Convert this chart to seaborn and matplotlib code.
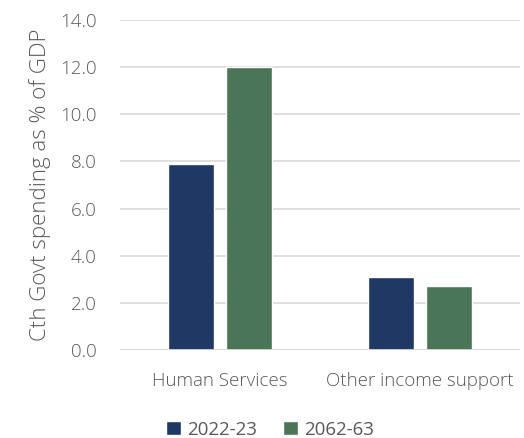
"""Cth Govt spending as % of GDP, two categories by year."""
import matplotlib
matplotlib.use("Agg")
import matplotlib.pyplot as plt
import pandas as pd
import seaborn as sns

CATEGORIES = ["Human Services", "Other income support"]
YEARS = ["2022-23", "2062-63"]
SPEND_2022 = [7.9, 3.1]
SPEND_2062 = [12.0, 2.7]
Y_TICKS = [0, 2, 4, 6, 8, 10, 12, 14]

COLORS = {"2022-23": "#1F3864", "2062-63": "#4A7657"}
TEXT = "#595959"

df = pd.DataFrame({
    "category": CATEGORIES * 2,
    "year": [YEARS[0]] * 2 + [YEARS[1]] * 2,
    "value": SPEND_2022 + SPEND_2062,
})

sns.set_style("white")
plt.rcParams["font.family"] = ["Open Sans", "DejaVu Sans"]

fig = plt.figure(figsize=(5.24, 4.38), dpi=100)
ax = fig.add_axes([0.229, 0.201, 0.763, 0.753])

sns.barplot(
    data=df, x="category", y="value", hue="year",
    palette=COLORS, width=0.58, gap=0.207,
    saturation=1, ax=ax, zorder=3,
)

ax.set_ylim(0, 14)
ax.set_yticks(Y_TICKS)
ax.set_yticklabels([f"{v:.1f}" for v in Y_TICKS])
ax.yaxis.grid(True, color="#D9D9D9", linewidth=1.2, zorder=0)
ax.set_xlim(-0.5, 1.5)
sns.despine(ax=ax, left=True, bottom=True, top=True, right=True)
ax.axhline(0, color="#D9D9D9", linewidth=1.2, zorder=4)

ax.tick_params(axis="both", length=0, labelsize=13.5, colors=TEXT)
ax.tick_params(axis="y", pad=17)
ax.tick_params(axis="x", pad=16)
for lbl in ax.get_xticklabels() + ax.get_yticklabels():
    lbl.set_fontweight("light")
ax.set_xlabel("")
ax.set_ylabel("Cth Govt spending as % of GDP", fontsize=16, color=TEXT,
              fontweight="light", labelpad=6)

ax.legend(
    loc="center", bbox_to_anchor=(0.375, -0.242), ncol=2,
    frameon=False, fontsize=13.5, labelcolor=TEXT,
    handlelength=0.8, handleheight=0.8, handletextpad=0.3,
    columnspacing=1.4,
)

fig.savefig("out.png", dpi=100)
